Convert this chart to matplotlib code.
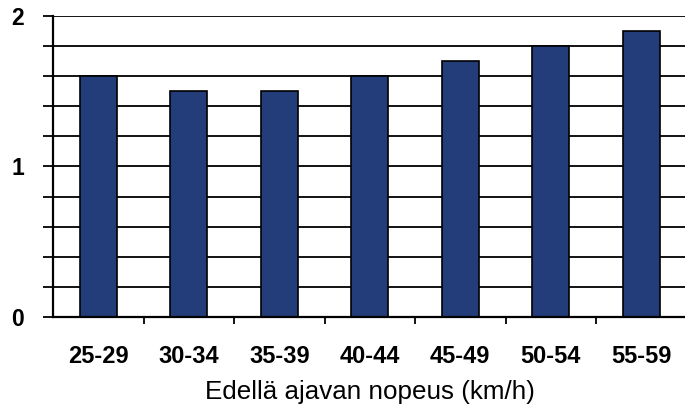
import matplotlib
matplotlib.use("Agg")
import matplotlib.pyplot as plt
import numpy as np

categories = ["25-29", "30-34", "35-39", "40-44", "45-49", "50-54", "55-59"]
values = [1.6, 1.5, 1.5, 1.6, 1.7, 1.8, 1.9]
xlabel = "Edellä ajavan nopeus (km/h)"

plt.rcParams['font.family'] = ['Liberation Sans', 'DejaVu Sans']

fig = plt.figure(figsize=(6.85, 4.05), dpi=100)
ax = fig.add_axes([53/685, 88/405, 633.5/685, 301/405])

x = np.arange(len(categories))
ax.bar(x, values, width=0.41, color="#233D7B", edgecolor="black", linewidth=1.2, zorder=3)

ax.set_xlim(-0.5, len(categories) - 0.5)
ax.set_ylim(0, 2)

# gridlines every 0.2
for yv in np.arange(0.2, 2.01, 0.2):
    ax.axhline(yv, color="black", linewidth=1.3, zorder=1)

yt = np.arange(0, 2.01, 0.2)
ax.set_yticks(yt)
ax.set_yticklabels([("%d" % round(v)) if abs(v - round(v)) < 1e-9 else "" for v in yt],
                   fontsize=16.5, fontweight="bold")
ax.tick_params(axis="y", length=7, width=1.3, pad=14)

ax.set_xticks(x)
ax.set_xticklabels(categories, fontsize=17, fontweight="bold")
ax.set_xticks(np.arange(0.5, len(categories) - 0.5, 1), minor=True)
ax.tick_params(axis="x", which="major", length=0, pad=20)
ax.tick_params(axis="x", which="minor", length=5, width=1.3, direction="out")

ax.set_xlabel(xlabel, fontsize=18.7, labelpad=9)

for s in ["top", "right"]:
    ax.spines[s].set_visible(False)
for s in ["left", "bottom"]:
    ax.spines[s].set_linewidth(1.6)
    ax.spines[s].set_zorder(4)

fig.savefig("out.png", dpi=100)
